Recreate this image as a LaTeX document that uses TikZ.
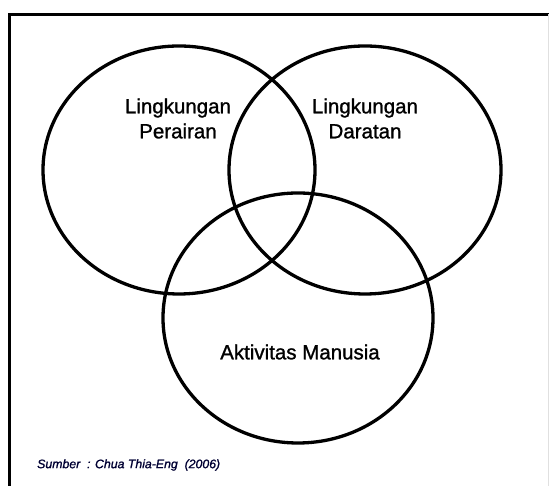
\documentclass[tikz,border=0pt]{standalone}
\usepackage{fontspec}
\setmainfont{Liberation Sans}
\newfontfamily\heavyfont[FakeBold=1.2]{Liberation Sans}
\begin{document}
\begin{tikzpicture}[x=1pt,y=1pt,
  venn/.style={line width=3.3pt,draw=black},
  label/.style={font=\heavyfont\fontsize{20.5}{25}\selectfont,align=center,inner sep=0pt},
  src/.style={font=\heavyfont\fontsize{12.3}{14}\selectfont\itshape,text=black!80!blue,inner sep=0pt,anchor=west}]
\useasboundingbox (0,0) rectangle (549,486);
\fill[white] (0,0) rectangle (549,486);
% frame
\draw[line width=3.3pt] (9.5,0) -- (9.5,471.5) -- (549,471.5);
\draw[line width=0.6pt,black!12] (548,0) -- (548,471.5);
% circles
\draw[venn] (179,316) ellipse [x radius=136, y radius=124];
\draw[venn] (365,316) ellipse [x radius=136, y radius=124];
\draw[venn] (298,168) ellipse [x radius=135, y radius=125];
% labels
\node[label] (peraira) at (178,367.5) {Lingkungan\\Perairan};
\node[label] (daratan) at (365,367.5) {Lingkungan\\Daratan};
\node[label] (manusia) at (300,134) {Aktivitas Manusia};
\node[src] (sumber) at (37,21) {Sumber\ \ : Chua Thia-Eng\ \ (2006)};
\end{tikzpicture}
\end{document}
